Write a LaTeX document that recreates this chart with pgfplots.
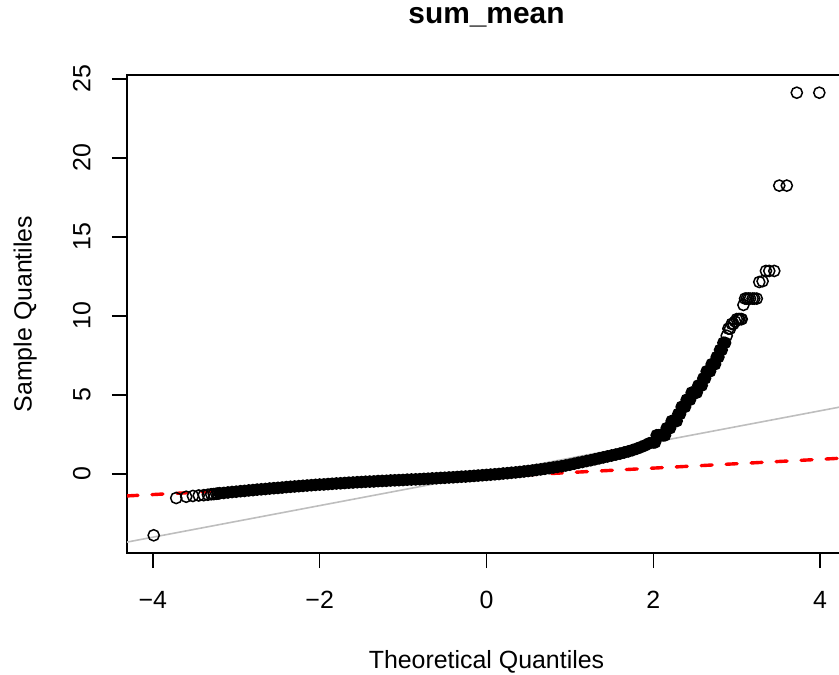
\documentclass[border=0pt]{standalone}
\usepackage{fontspec}
\setmainfont{Liberation Sans}
\usepackage{pgfplots}
\usepackage{pgfplotstable}
\pgfplotsset{compat=1.18}
\definecolor{rgray}{RGB}{190,190,190}

% dense band (drawn as filled discs: overlapping circles)
\pgfplotstableread{
x y
-3.20 -1.22
-3.15 -1.20
-3.10 -1.17
-3.05 -1.14
-3.00 -1.12
-2.95 -1.09
-2.90 -1.07
-2.85 -1.04
-2.80 -1.02
-2.75 -0.99
-2.70 -0.97
-2.65 -0.95
-2.60 -0.92
-2.55 -0.90
-2.50 -0.88
-2.45 -0.86
-2.40 -0.83
-2.35 -0.81
-2.30 -0.79
-2.25 -0.77
-2.20 -0.75
-2.15 -0.73
-2.10 -0.71
-2.05 -0.69
-2.00 -0.67
-1.95 -0.66
-1.90 -0.64
-1.85 -0.62
-1.80 -0.60
-1.75 -0.59
-1.70 -0.57
-1.65 -0.55
-1.60 -0.54
-1.55 -0.52
-1.50 -0.51
-1.45 -0.49
-1.40 -0.48
-1.35 -0.47
-1.30 -0.45
-1.25 -0.44
-1.20 -0.43
-1.15 -0.41
-1.10 -0.40
-1.05 -0.39
-1.00 -0.38
-0.95 -0.36
-0.90 -0.35
-0.85 -0.34
-0.80 -0.33
-0.75 -0.31
-0.70 -0.30
-0.65 -0.28
-0.60 -0.27
-0.55 -0.25
-0.50 -0.24
-0.45 -0.22
-0.40 -0.21
-0.35 -0.19
-0.30 -0.17
-0.25 -0.16
-0.20 -0.14
-0.15 -0.12
-0.10 -0.10
-0.05 -0.08
0.00 -0.06
0.05 -0.04
0.10 -0.02
0.15 0.00
0.20 0.03
0.25 0.05
0.30 0.08
0.35 0.10
0.40 0.13
0.45 0.16
0.50 0.19
0.55 0.22
0.60 0.26
0.65 0.29
0.70 0.33
0.75 0.37
0.80 0.41
0.85 0.45
0.90 0.49
0.95 0.54
1.00 0.59
1.05 0.65
1.10 0.71
1.15 0.76
1.20 0.82
1.25 0.87
1.30 0.93
1.35 0.99
1.40 1.05
1.45 1.11
1.50 1.17
1.55 1.23
1.60 1.29
1.65 1.36
1.70 1.43
1.75 1.51
1.80 1.60
1.85 1.70
1.90 1.81
1.95 1.94
2.00 2.00
2.02 2.00
2.04 2.45
2.06 2.45
2.08 2.45
2.10 2.45
2.12 2.45
2.14 2.45
2.16 2.90
2.18 2.90
2.20 2.90
2.22 3.35
2.24 3.35
2.26 3.35
2.28 3.35
2.30 3.80
2.32 3.80
2.34 4.25
2.36 4.25
2.38 4.25
2.40 4.70
2.42 4.70
2.44 4.70
2.46 5.15
2.48 5.15
2.50 5.15
2.52 5.15
2.54 5.60
2.56 5.60
2.58 5.60
2.60 6.05
2.62 6.05
2.64 6.50
2.66 6.50
2.68 6.50
2.70 6.95
2.72 6.95
2.74 6.95
2.76 7.40
2.78 7.40
2.80 7.85
2.82 7.85
2.84 8.30
2.86 8.30
}\band

% sparse points (open circles)
\pgfplotstableread{
x y
-3.99 -3.88
-3.72 -1.52
-3.60 -1.44
-3.52 -1.39
-3.45 -1.36
-3.39 -1.34
-3.34 -1.31
-3.30 -1.28
-3.27 -1.27
-3.24 -1.25
-3.22 -1.24
2.88 8.75
2.90 9.20
2.92 9.20
2.94 9.50
2.96 9.50
2.98 9.65
3.00 9.80
3.02 9.80
3.03 9.80
3.05 9.80
3.06 9.80
3.08 10.70
3.10 11.10
3.12 11.10
3.14 11.10
3.16 11.10
3.19 11.10
3.21 11.10
3.24 11.10
3.27 12.15
3.31 12.20
3.35 12.85
3.39 12.85
3.45 12.85
3.51 18.25
3.60 18.25
3.72 24.13
3.99 24.13
}\tails

\begin{document}
\begin{tikzpicture}
\begin{axis}[
  at={(0,0)}, anchor=south west,
  scale only axis,
  width=719bp, height=478bp,
  xmin=-4.31, xmax=4.31,
  ymin=-5.0, ymax=25.25,
  axis line style={line width=1.6bp, black},
  xtick={-4,-2,0,2,4},
  xticklabels={−4,−2,0,2,4},
  ytick={0,5,10,15,20,25},
  yticklabels={0,5,10,15,20,25},
  xtick pos=left, ytick pos=left,
  tick align=outside,
  major tick length=15bp,
  major tick style={line width=1.6bp, black},
  ticklabel style={font=\fontsize{25}{30}\selectfont},
  xticklabel style={anchor=base, yshift=-40bp},
  yticklabel style={xshift=-21.5bp, rotate=90, anchor=base},
  clip=true,
]
\addplot[only marks, mark=*, mark size=5.6bp,
  mark options={fill=black, draw=black, line width=1.5bp}] table {\band};
\addplot[only marks, mark=o, mark size=5.6bp,
  mark options={draw=black, line width=1.5bp}] table {\tails};
\addplot[rgray, line width=1.6bp] coordinates {(-4.31,-4.31) (4.31,4.31)};
\addplot[red, line width=3.4bp, line cap=round, dash pattern=on 11bp off 14bp]
  coordinates {(-4.31,-1.388) (4.31,1.016)};
\end{axis}
\node[anchor=base, font=\fontsize{30}{36}\selectfont\bfseries] at (359.5bp,529bp) {sum\_mean};
\node[anchor=base, font=\fontsize{25}{30}\selectfont] at (359.5bp,-115.3bp) {Theoretical Quantiles};
\node[rotate=90, anchor=base, font=\fontsize{25}{30}\selectfont] at (-95.3bp,239bp) {Sample Quantiles};
\pgfresetboundingbox
\path[use as bounding box] (-127bp,-122bp) rectangle (712bp,553bp);
\end{tikzpicture}
\end{document}
